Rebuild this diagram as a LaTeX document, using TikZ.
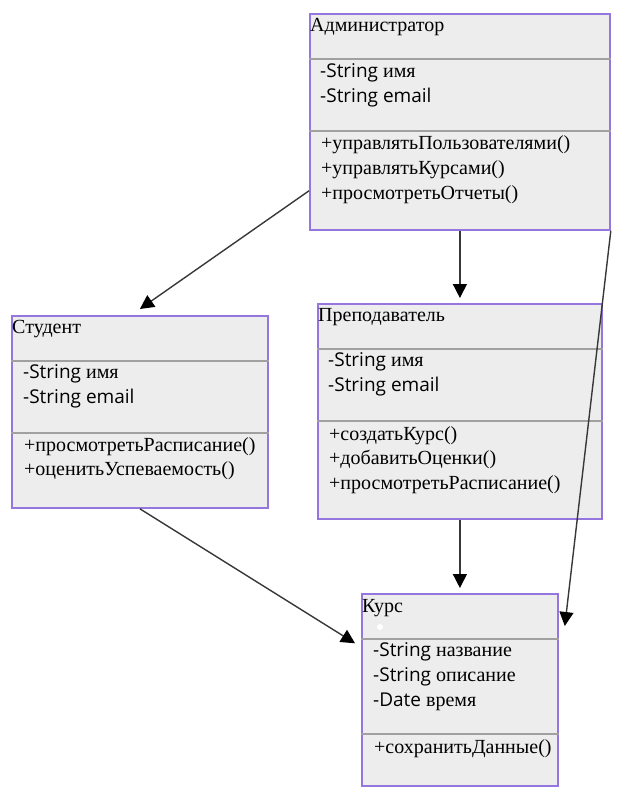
\documentclass[tikz,border=0pt]{standalone}
\usepackage{fontspec}
\setmainfont{Liberation Serif}
\setsansfont{Open Sans}
\usepackage{tikz}
\usetikzlibrary{arrows.meta}
\usetikzlibrary{positioning}

\definecolor{umlpurple}{HTML}{9575DE}
\definecolor{umlfill}{HTML}{EDEDED}
\definecolor{umlsep}{HTML}{A0A0A0}
\definecolor{umlline}{HTML}{383838}

\begin{document}
\begin{tikzpicture}[x=1pt, y=-1pt,
        cls/.style = {draw=umlpurple, line width=1.8pt, fill=umlfill, inner sep=0pt, anchor=north west},
        sep/.style = {draw=umlsep, line width=1.3pt},
        txt/.style = {inner sep=0pt, anchor=mid west, font=\fontsize{20}{24}\selectfont},
        sans/.style = {font=\fontsize{19}{24}\sffamily},
        conn/.style = {draw=umlline, line width=1.4pt, -{Triangle[length=14pt, width=14pt, color=black]}}]
            \useasboundingbox (0,0) rectangle (629,795);

            \node[cls, minimum width=300pt, minimum height=216pt] (admin) at (309,13) {};
            \node[cls, minimum width=256pt, minimum height=192pt] (student) at (11,315) {};
            \node[cls, minimum width=284pt, minimum height=215pt] (teacher) at (317,303) {};
            \node[cls, minimum width=196pt, minimum height=192pt] (course) at (361,593) {};

            \draw[sep] ([yshift=-46pt]admin.north west) -- ([yshift=-46pt]admin.north east);
            \draw[sep] ([yshift=-118pt]admin.north west) -- ([yshift=-118pt]admin.north east);
            \draw[sep] ([yshift=-46pt]student.north west) -- ([yshift=-46pt]student.north east);
            \draw[sep] ([yshift=-118pt]student.north west) -- ([yshift=-118pt]student.north east);
            \draw[sep] ([yshift=-46pt]teacher.north west) -- ([yshift=-46pt]teacher.north east);
            \draw[sep] ([yshift=-118pt]teacher.north west) -- ([yshift=-118pt]teacher.north east);
            \draw[sep] ([yshift=-46pt]course.north west) -- ([yshift=-46pt]course.north east);
            \draw[sep] ([yshift=-141pt]course.north west) -- ([yshift=-141pt]course.north east);

            % Администратор
            \node[txt] (adminT) at (310,29) {Администратор};
            \node[txt] (adminA1) at (320,75) {{\sffamily\fontsize{19}{24}\selectfont -String} имя};
            \node[txt, sans] (adminA2) at (320,100) {-String email};
            \node[txt] (adminM1) at (321,147) {+управлятьПользователями()};
            \node[txt] (adminM2) at (321,172) {+управлятьКурсами()};
            \node[txt] (adminM3) at (321,197) {+просмотретьОтчеты()};

            % Студент
            \node[txt] (studentT) at (12,331) {Студент};
            \node[txt] (studentA1) at (23,376) {{\sffamily\fontsize{19}{24}\selectfont -String} имя};
            \node[txt, sans] (studentA2) at (23,401) {-String email};
            \node[txt] (studentM1) at (24,449) {+просмотретьРасписание()};
            \node[txt] (studentM2) at (24,473) {+оценитьУспеваемость()};

            % Преподаватель
            \node[txt] (teacherT) at (318,319) {Преподаватель};
            \node[txt] (teacherA1) at (328,364) {{\sffamily\fontsize{19}{24}\selectfont -String} имя};
            \node[txt, sans] (teacherA2) at (328,389) {-String email};
            \node[txt] (teacherM1) at (329,438) {+создатьКурс()};
            \node[txt] (teacherM2) at (329,462) {+добавитьОценки()};
            \node[txt] (teacherM3) at (329,487) {+просмотретьРасписание()};

            % Курс
            \node[txt] (courseT) at (362,610) {Курс};
            \fill[white] (380,627) circle (3pt);
            \node[txt] (courseA1) at (373,654) {{\sffamily\fontsize{19}{24}\selectfont -String} название};
            \node[txt] (courseA2) at (373,679) {{\sffamily\fontsize{19}{24}\selectfont -String} описание};
            \node[txt] (courseA3) at (373,704) {{\sffamily\fontsize{19}{24}\selectfont -Date} время};
            \node[txt] (courseM1) at (374,751) {+сохранитьДанные()};

            \coordinate (adminL) at ([yshift=40pt]admin.south west);
            \coordinate (courseR) at ([xshift=6pt, yshift=-33pt]course.north east);

            \path[conn] (adminL) -- ([yshift=6pt]student.north);
            \path[conn] (admin.south) -- ([yshift=5pt]teacher.north);
            \path[conn] (admin.south east) -- (courseR);
            \path[conn, shorten >=7pt] (student.south) -- ([yshift=-54pt]course.north west);
            \path[conn] (teacher.south) -- ([yshift=5pt]course.north);
        \end{tikzpicture}
\end{document}
